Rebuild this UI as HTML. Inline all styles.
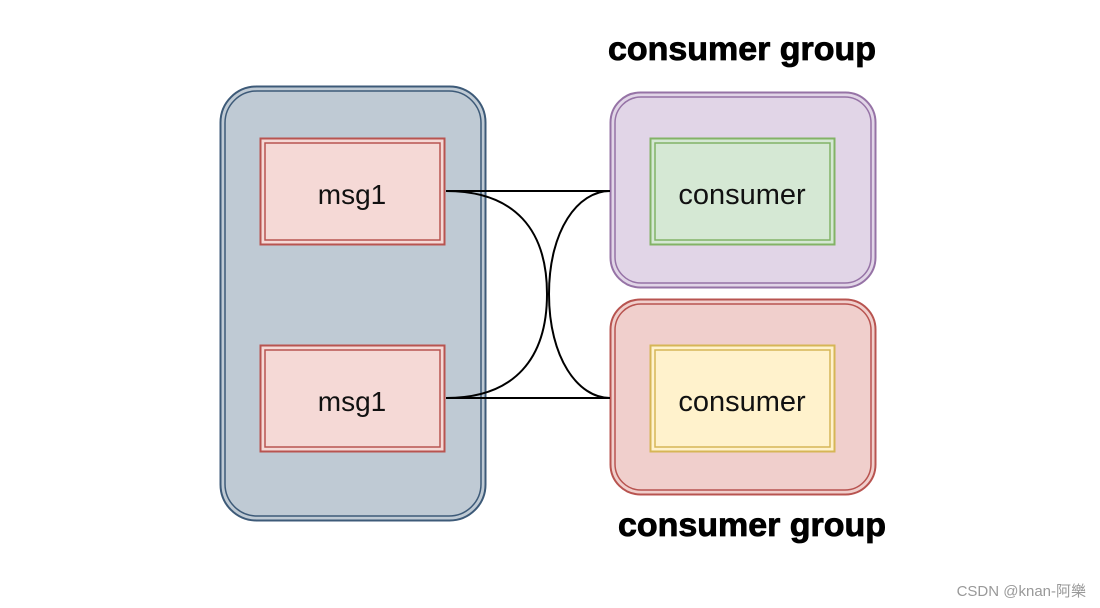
<!DOCTYPE html>
<html><head><meta charset="utf-8"><style>
html,body{margin:0;padding:0;background:#fff;width:1100px;height:608px;overflow:hidden}
</style></head><body>
<svg width="1100" height="608" viewBox="0 0 1100 608" xmlns="http://www.w3.org/2000/svg" font-family="Liberation Sans, Arial, sans-serif">
<rect x="220.5" y="86.5" width="265" height="434" rx="36" fill="#bfcad4" stroke="#3d5a78" stroke-width="2"/>
<rect x="225" y="91" width="256" height="425" rx="32" fill="none" stroke="#3d5a78" stroke-width="1.5"/>
<g>
<rect x="260.5" y="138.5" width="184" height="106" fill="#f5d9d6" stroke="#b85450" stroke-width="2"/>
<rect x="265" y="143" width="175" height="97" fill="none" stroke="#b85450" stroke-width="1.5"/>
<text x="352" y="204" font-size="28" text-anchor="middle" fill="#111">msg1</text>
</g>
<g>
<rect x="260.5" y="345.5" width="184" height="106" fill="#f5d9d6" stroke="#b85450" stroke-width="2"/>
<rect x="265" y="350" width="175" height="97" fill="none" stroke="#b85450" stroke-width="1.5"/>
<text x="352" y="411" font-size="28" text-anchor="middle" fill="#111">msg1</text>
</g>
<rect x="610.5" y="92.5" width="265" height="195" rx="30" fill="#e1d5e7" stroke="#9673a6" stroke-width="2"/>
<rect x="615" y="97" width="256" height="186" rx="26" fill="none" stroke="#9673a6" stroke-width="1.5"/>
<rect x="650.5" y="138.5" width="184" height="106" fill="#d5e8d4" stroke="#82b366" stroke-width="2"/>
<rect x="655" y="143" width="175" height="97" fill="none" stroke="#82b366" stroke-width="1.5"/>
<text x="742" y="204" font-size="29" text-anchor="middle" fill="#111">consumer</text>
<rect x="610.5" y="299.5" width="265" height="195" rx="30" fill="#f0cfcc" stroke="#b85450" stroke-width="2"/>
<rect x="615" y="304" width="256" height="186" rx="26" fill="none" stroke="#b85450" stroke-width="1.5"/>
<rect x="650.5" y="345.5" width="184" height="106" fill="#fff2cc" stroke="#d6b656" stroke-width="2"/>
<rect x="655" y="350" width="175" height="97" fill="none" stroke="#d6b656" stroke-width="1.5"/>
<text x="742" y="411" font-size="29" text-anchor="middle" fill="#111">consumer</text>
<g fill="none" stroke="#000" stroke-width="2">
<path d="M446,191 L610,191"/>
<path d="M446,398 L610,398"/>
<path d="M446,191 C515,191 547,230 547,294 C547,358 515,398 446,398"/>
<path d="M610,191 C578,191 549,230 549,294 C549,358 578,398 610,398"/>
</g>
<text x="742" y="60" font-size="33" font-weight="bold" text-anchor="middle" fill="#000" stroke="#000" stroke-width="0.8" textLength="268" lengthAdjust="spacingAndGlyphs">consumer group</text>
<text x="752" y="536" font-size="33" font-weight="bold" text-anchor="middle" fill="#000" stroke="#000" stroke-width="0.8" textLength="268" lengthAdjust="spacingAndGlyphs">consumer group</text>
<text x="1086" y="596" font-size="15" text-anchor="end" fill="#999" font-family="Liberation Sans, Noto Sans CJK SC, sans-serif">CSDN @knan-阿樂</text>
</svg>
</body></html>
